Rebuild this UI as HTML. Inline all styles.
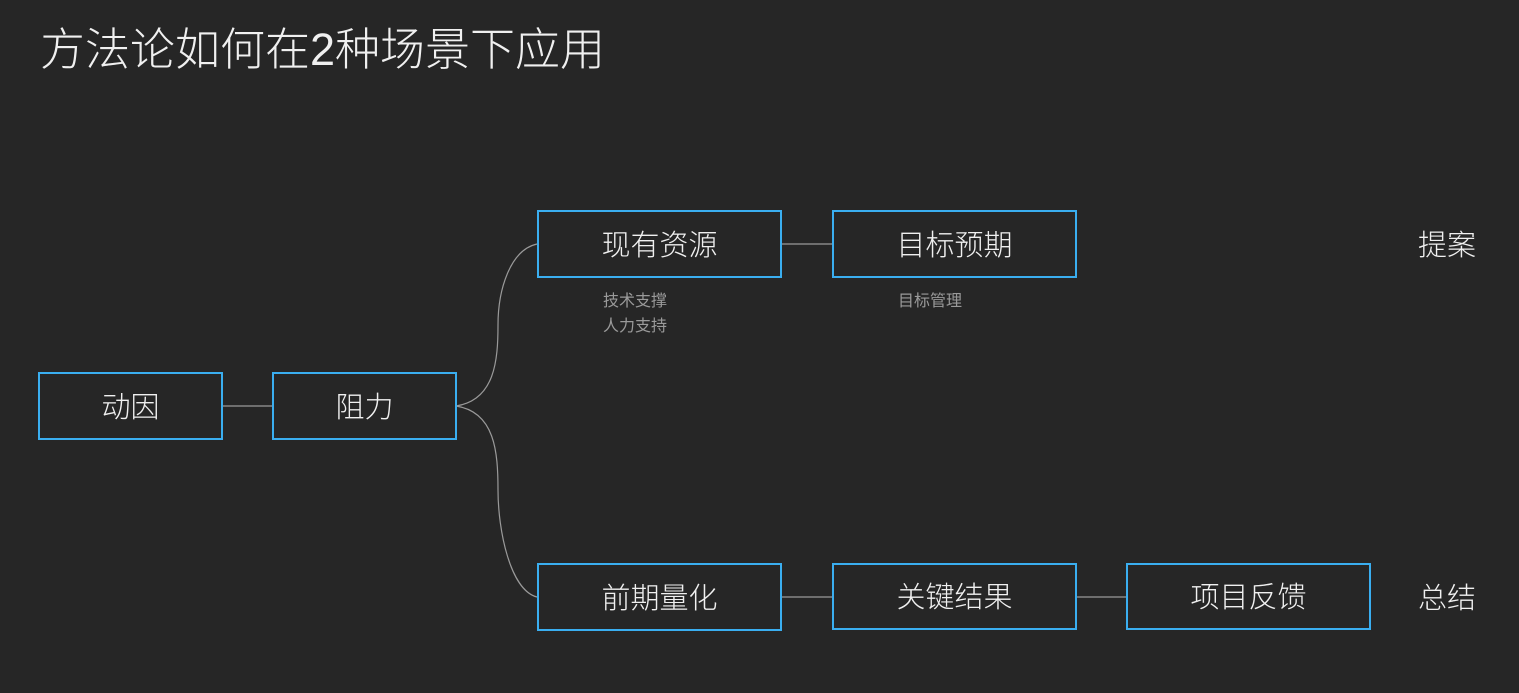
<!DOCTYPE html>
<html><head><meta charset="utf-8"><style>
html,body{margin:0;padding:0;background:#262626;}
body{width:1519px;height:693px;position:relative;overflow:hidden;font-family:"Liberation Sans","Noto Sans CJK SC",sans-serif;color:#f0f0f0;}
.t{position:absolute;left:40px;top:13px;font-size:45px;font-weight:300;white-space:nowrap;letter-spacing:0px;}
.b{position:absolute;box-sizing:border-box;border:2px solid #3aaef0;display:flex;align-items:center;justify-content:center;font-size:29px;font-weight:300;padding-bottom:3px;}
.s{position:absolute;font-size:16px;color:#9a9a9a;line-height:25px;}
.l{position:absolute;font-size:29px;font-weight:300;}
</style></head><body>
<div class="t">方法论如何在2种场景下应用</div>
<svg width="1519" height="693" style="position:absolute;left:0;top:0">
<g stroke="#9a9a9a" stroke-width="1.2" fill="none">
<line x1="222" y1="406" x2="272" y2="406"/>
<line x1="781" y1="244" x2="832" y2="244"/>
<line x1="781" y1="597" x2="832" y2="597"/>
<line x1="1076" y1="597" x2="1126" y2="597"/>
<path d="M456 406 C495 400 498 360 498 325 C498 290 510 250 537 244"/>
<path d="M456 406 C495 412 498 452 498 490 C498 530 510 590 537 597"/>
</g></svg>
<div class="b" style="left:38px;top:372px;width:185px;height:68px">动因</div>
<div class="b" style="left:272px;top:372px;width:185px;height:68px">阻力</div>
<div class="b" style="left:537px;top:210px;width:245px;height:68px">现有资源</div>
<div class="b" style="left:832px;top:210px;width:245px;height:68px">目标预期</div>
<div class="b" style="left:537px;top:563px;width:245px;height:68px">前期量化</div>
<div class="b" style="left:832px;top:563px;width:245px;height:67px">关键结果</div>
<div class="b" style="left:1126px;top:563px;width:245px;height:67px">项目反馈</div>
<div class="s" style="left:603px;top:289px">技术支撑<br>人力支持</div>
<div class="s" style="left:898px;top:289px">目标管理</div>
<div class="l" style="left:1418px;top:222px">提案</div>
<div class="l" style="left:1418px;top:575px">总结</div>
</body></html>
